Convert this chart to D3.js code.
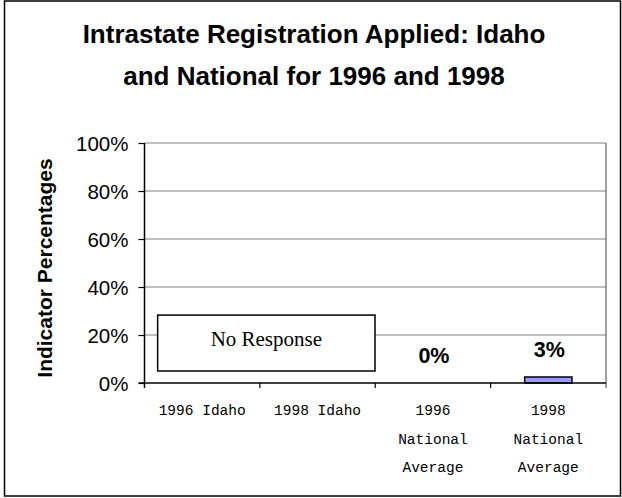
<!DOCTYPE html>
<html>
<head>
<meta charset="utf-8">
<script src="https://cdn.jsdelivr.net/npm/d3@7"></script>
<style>
  html, body { margin: 0; padding: 0; background: #fff; }
  svg { display: block; }
</style>
</head>
<body>
<script>
// ---- Data ----
const categories = ["1996 Idaho", "1998 Idaho", "1996 National Average", "1998 National Average"];
const categoryLines = [["1996 Idaho"], ["1998 Idaho"], ["1996", "National", "Average"], ["1998", "National", "Average"]];
const values = [null, null, 0, 0.025];
const valueLabels = [null, null, "0%", "3%"];
const yTicks = [0, 0.2, 0.4, 0.6, 0.8, 1.0];
const titleLines = ["Intrastate Registration Applied: Idaho", "and National for 1996 and 1998"];
const yTitle = "Indicator Percentages";
const noResponseText = "No Response";
const noResponseRange = [0.05, 0.283];

// ---- Layout ----
const W = 622, H = 498;
const plot = { left: 144.5, right: 606, top: 143, bottom: 383 };

const svg = d3.select("body").append("svg").attr("width", W).attr("height", H);

// outer border
svg.append("rect").attr("x", 4.5).attr("y", 1).attr("width", 616).attr("height", 495)
  .attr("fill", "#fff").attr("stroke", "#000").attr("stroke-width", 1.5);

const x = d3.scaleBand().domain(categories).range([plot.left, plot.right]).padding(0);
const y = d3.scaleLinear().domain([0, 1]).range([plot.bottom, plot.top]);

// title
const title = svg.append("text").attr("text-anchor", "middle")
  .attr("font-family", "Arial, 'Liberation Sans', sans-serif").attr("font-weight", "bold")
  .attr("font-size", 26).attr("fill", "#000");
titleLines.forEach((t, i) => {
  title.append("tspan").attr("x", 314).attr("y", 43 + i * 42).text(t);
});

// gridlines
svg.append("g").selectAll("line").data(yTicks.filter(d => d > 0)).join("line")
  .attr("x1", plot.left).attr("x2", plot.right)
  .attr("y1", d => y(d)).attr("y2", d => y(d))
  .attr("stroke", "#808080").attr("stroke-width", 1.2);

// right border of plot
svg.append("line").attr("x1", plot.right).attr("x2", plot.right)
  .attr("y1", plot.top).attr("y2", plot.bottom + 5)
  .attr("stroke", "#808080").attr("stroke-width", 1.5);

// bars
const barW = x.bandwidth() * 0.41;
svg.append("g").selectAll("rect").data(categories.map((c, i) => ({ c, v: values[i] })).filter(d => d.v != null && d.v > 0))
  .join("rect")
  .attr("x", d => x(d.c) + (x.bandwidth() - barW) / 2)
  .attr("y", d => y(d.v))
  .attr("width", barW)
  .attr("height", d => y(0) - y(d.v))
  .attr("fill", "#9999ff").attr("stroke", "#000").attr("stroke-width", 1.5);

// value labels
svg.append("g").selectAll("text").data(categories.map((c, i) => ({ c, v: values[i], l: valueLabels[i] })).filter(d => d.l))
  .join("text")
  .attr("x", d => x(d.c) + x.bandwidth() / 2 + 1)
  .attr("y", d => y(d.v) - 20)
  .attr("text-anchor", "middle")
  .attr("font-family", "Arial, 'Liberation Sans', sans-serif").attr("font-weight", "bold")
  .attr("font-size", 21.5).text(d => d.l);

// y axis
const yAxis = d3.axisLeft(y).tickValues(yTicks).tickFormat(d3.format(".0%")).tickSize(6).tickPadding(10);
const gy = svg.append("g").attr("transform", `translate(${plot.left},0)`).call(yAxis);
gy.select(".domain").attr("stroke", "#000").attr("stroke-width", 1.5).attr("d", `M0,${plot.top}V${plot.bottom + 5}`);
gy.selectAll(".tick line").attr("stroke", "#000").attr("stroke-width", 1.2);
gy.selectAll(".tick text").attr("font-family", "Arial, 'Liberation Sans', sans-serif").attr("font-size", 20.5).attr("fill", "#000")
  .attr("dy", "0.36em");

// x axis
svg.append("line").attr("x1", plot.left - 6).attr("x2", plot.right)
  .attr("y1", plot.bottom).attr("y2", plot.bottom).attr("stroke", "#000").attr("stroke-width", 1.5);
svg.append("g").selectAll("line").data(categories.slice(1)).join("line")
  .attr("x1", d => x(d)).attr("x2", d => x(d))
  .attr("y1", plot.bottom).attr("y2", plot.bottom + 5)
  .attr("stroke", "#000").attr("stroke-width", 1.2);

const xl = svg.append("g").selectAll("text").data(categories).join("text")
  .attr("text-anchor", "middle")
  .attr("font-family", "'Courier New', 'Liberation Mono', monospace")
  .attr("font-size", 14.5).attr("fill", "#000");
xl.each(function (d, i) {
  const t = d3.select(this);
  categoryLines[i].forEach((ln, j) => {
    t.append("tspan").attr("x", x(d) + x.bandwidth() / 2).attr("y", 415 + j * 28.5).text(ln);
  });
});

// y title
svg.append("text")
  .attr("transform", `translate(52,${(plot.top + plot.bottom) / 2 + 5}) rotate(-90)`)
  .attr("text-anchor", "middle")
  .attr("font-family", "Arial, 'Liberation Sans', sans-serif").attr("font-weight", "bold")
  .attr("font-size", 21).text(yTitle);

// No Response annotation box
const boxX0 = x(categories[0]) + x.bandwidth() * 0.114;
const boxX1 = x(categories[1]) + x.bandwidth() * 0.998;
svg.append("rect")
  .attr("x", boxX0).attr("y", y(noResponseRange[1]))
  .attr("width", boxX1 - boxX0).attr("height", y(noResponseRange[0]) - y(noResponseRange[1]))
  .attr("fill", "#fff").attr("stroke", "#000").attr("stroke-width", 1.5);
svg.append("text")
  .attr("x", (boxX0 + boxX1) / 2).attr("y", 346)
  .attr("text-anchor", "middle")
  .attr("font-family", "'Times New Roman', 'Liberation Serif', serif")
  .attr("font-size", 21).text(noResponseText);
</script>
</body>
</html>
